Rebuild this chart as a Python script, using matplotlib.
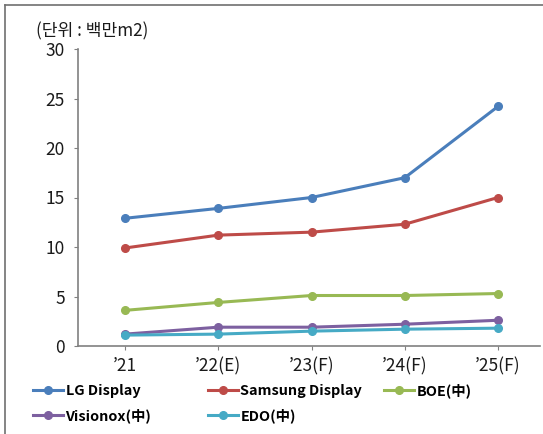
import matplotlib.pyplot as plt
from matplotlib.lines import Line2D

plt.rcParams['font.family'] = ['Noto Sans CJK KR', 'DejaVu Sans']

years = ['’21', '’22(E)', '’23(F)', '’24(F)', '’25(F)']
lg = [12.9, 13.9, 15.0, 17.0, 24.2]
samsung = [9.9, 11.2, 11.5, 12.3, 15.0]
boe = [3.6, 4.4, 5.1, 5.1, 5.3]
visionox = [1.2, 1.9, 1.9, 2.2, 2.6]
edo = [1.1, 1.2, 1.5, 1.7, 1.8]

names = ['LG Display', 'Samsung Display', 'BOE(中)', 'Visionox(中)', 'EDO(中)']
values = [lg, samsung, boe, visionox, edo]
colors = ['#4a7ebb', '#be4b48', '#98b954', '#7d60a0', '#46aac5']

W, H = 543, 434
fig = plt.figure(figsize=(W / 100, H / 100), dpi=100)
ax = fig.add_axes([78 / W, 1 - 346 / H, 462 / W, 297 / H])

x = list(range(len(years)))
lines = []
for name, vals, col in zip(names, values, colors):
    ln, = ax.plot(x, vals, color=col, linewidth=2.2, marker='o', markersize=5.5, label=name)
    lines.append(ln)

ax.set_xlim(-0.504, 4.45)
ax.set_ylim(0, 30)
ax.set_yticks(range(0, 31, 5))
ax.set_xticks(x)
ax.set_xticklabels(years)
for s in ['top', 'right']:
    ax.spines[s].set_visible(False)
for s in ['left', 'bottom']:
    ax.spines[s].set_color('#808080')
    ax.spines[s].set_linewidth(1.2)
ax.tick_params(axis='both', colors='#808080', labelcolor='#1a1a1a', labelsize=12.5, length=3)
ax.tick_params(axis='y', pad=6.5)
ax.tick_params(axis='x', pad=5)

fig.text(36 / W, 1 - 31 / H, '(단위 : 백만m2)', fontsize=12.3, va='center', ha='left', color='#1a1a1a')

# legend entries laid out row by row like the original
leg_pos = [(33, 391), (208, 391), (384, 391), (33, 416), (208, 416)]
for ln, name, (px, py) in zip(lines, names, leg_pos):
    fig.legend([ln], [name], loc='center left', bbox_to_anchor=(px / W, 1 - py / H),
               frameon=False, prop={'weight': 'bold', 'size': 10.4},
               handlelength=2.1, handletextpad=0.15, borderpad=0, borderaxespad=0)

# frame lines (top and left only)
fig.lines.append(Line2D([4.5 / W, 4.5 / W], [0, 1 - 5 / H], transform=fig.transFigure,
                        color='#707070', linewidth=1.2))
fig.lines.append(Line2D([4.5 / W, 1], [1 - 5 / H, 1 - 5 / H], transform=fig.transFigure,
                        color='#707070', linewidth=1.2))

plt.savefig('out.png', dpi=100)
